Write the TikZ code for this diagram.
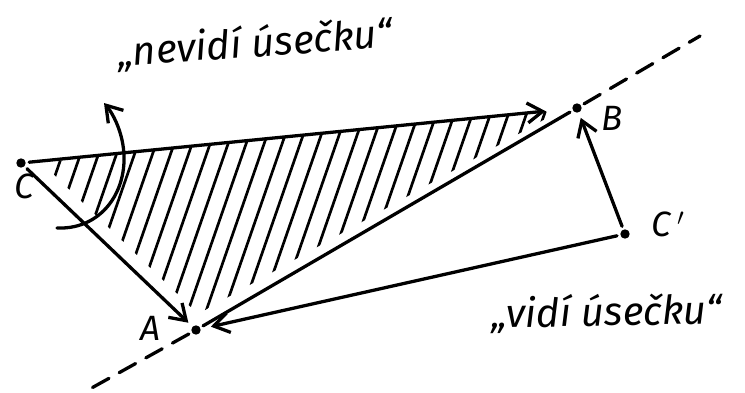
\documentclass[tikz,border=0pt]{standalone}
\usepackage{fontspec}
\setmainfont{Fira Sans}
\usetikzlibrary{arrows.meta}
\tikzset{
  pt/.style={circle,fill=black,inner sep=0pt,minimum size=8pt,outer sep=3pt},
  hand/.style={line width=2.8pt,line cap=round,line join=round},
  arr/.style={hand,-{Straight Barb[length=13pt,width=17pt,line width=2.8pt]}},
  lbl/.style={font=\fontsize{30}{34}\selectfont\itshape},
  say/.style={font=\fontsize{34}{38}\selectfont\itshape},
  hatch/.style={line width=2.3pt,line cap=round}
}
\begin{document}
\begin{tikzpicture}[x=0.03cm,y=-0.03cm]
\useasboundingbox (0,0) rectangle (745,393);
% points
\node[pt] (C) at (21,163) {};
\node[pt] (A) at (196,330) {};
\node[pt] (B) at (577,108) {};
\node[pt] (Cp) at (625,234) {};
% labels
\node[lbl] (lC) at (24,186) {C};
\node[lbl] (lA) at (150,328) {A};
\node[lbl] (lB) at (612,118) {B};
\node[lbl] (lCp) at (668,224) {C\,$'$};
% hatching
\begin{scope}
\clip (46,167) -- (198,314) -- (554,114) -- (545,111) -- (46,162) -- cycle;
\foreach \x in {-200,-182,...,600} {
  \draw[hatch] (\x,340) -- ++(118,-340);
}
\end{scope}
% dashed line through A and B
\coordinate (dL) at (88,390);
\coordinate (dR) at (700,36);
\draw[hand,dash pattern=on 16pt off 10pt] (A) -- (dL);
\draw[hand,dash pattern=on 16pt off 10pt] (B) -- (dR);
% edges
\draw[hand] (A) -- (B);
\draw[arr,shorten >=20pt] (C) -- (B);
\draw[arr,shorten >=2pt] (C) -- (A);
\draw[arr,shorten >=6pt] (Cp) -- (A);
\draw[arr,shorten >=2pt] (Cp) -- (B);
% curved arrow
\coordinate (s) at (57,228);
\coordinate (m) at (122,140);
\coordinate (e) at (104,103);
\draw[arr] (s) .. controls (105,230) and (132,185) .. (m) .. controls (118,122) and (110,110) .. (e);
% texts
\node[say,rotate=4] (t1) at (255,44) {„nevidí úsečku“};
\node[say,rotate=1] (t2) at (607,313) {„vidí úsečku“};
\end{tikzpicture}
\end{document}
